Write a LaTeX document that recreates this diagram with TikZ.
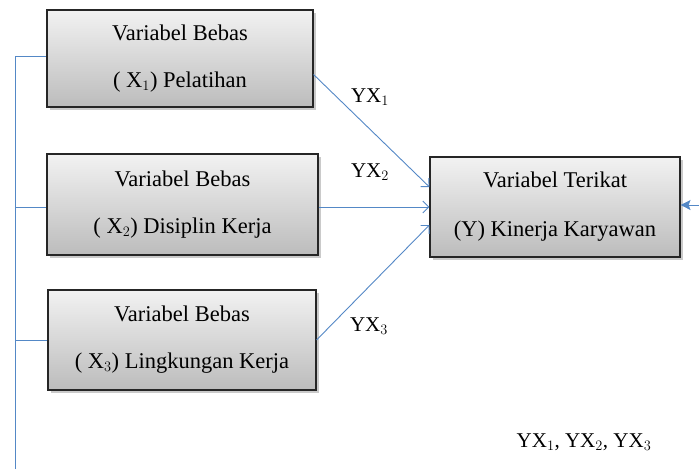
\documentclass[tikz,border=0pt]{standalone}
\usepackage{fontspec}
\setmainfont{Liberation Serif}
\usetikzlibrary{shadows,arrows.meta}
\definecolor{lnblue}{RGB}{84,136,198}
\definecolor{boxtop}{RGB}{242,242,242}
\definecolor{boxbot}{RGB}{188,188,188}
\tikzset{
  varbox/.style={draw=black!85, line width=1.1pt, top color=boxtop, bottom color=boxbot,
    drop shadow={shadow xshift=2.5pt, shadow yshift=-2.5pt, opacity=0.35, fill=black!60},
    align=center, font=\fontsize{22.5}{48}\selectfont, inner sep=0pt},
  link/.style={draw=lnblue, line width=0.9pt},
  arr/.style={link, -{Straight Barb[length=6pt,width=12pt,line width=0.9pt]}},
  lbl/.style={font=\fontsize{21}{24}\selectfont, inner sep=0pt}
}
\begin{document}
\begin{tikzpicture}[x=1pt,y=-1pt]
\useasboundingbox (0,0) rectangle (699,469);
\node[varbox, minimum width=266pt, minimum height=97pt] (b1) at (180,58.5)
  {Variabel Bebas\\[-1pt]( X$_1$) Pelatihan};
\node[varbox, minimum width=271pt, minimum height=101pt] (b2) at (182.5,204.5)
  {Variabel Bebas\\[-1pt]( X$_2$) Disiplin Kerja};
\node[varbox, minimum width=268pt, minimum height=100pt] (b3) at (182,340)
  {Variabel Bebas\\[-1pt]( X$_3$) Lingkungan Kerja};
\node[varbox, minimum width=250pt, minimum height=100pt] (y) at (555,207)
  {Variabel Terikat\\[1pt](Y) Kinerja Karyawan};

\coordinate (top) at (15,56);
\coordinate (bot) at (15,469);
\coordinate (t2) at (15,207);
\coordinate (t3) at (15,340);
\coordinate (rin) at (699,205);
\draw[link] (bot) -- (top) -- (b1.west |- top);
\draw[link] (t2) -- (b2.west |- t2);
\draw[link] (t3) -- (b3.west |- t3);

\draw[arr] ([yshift=-16pt]b1.east) -- ([yshift=20pt]y.west);
\draw[arr] (b2.east |- t2) -- (y.west |- t2);
\draw[arr] (b3.east) -- ([yshift=-18pt]y.west);
\draw[link, -{Stealth[length=10pt,width=10pt,inset=2pt]}] (rin) -- (y.east |- rin);

\node[lbl] (l1) at (370,97) {YX$_1$};
\node[lbl] (l2) at (370,172) {YX$_2$};
\node[lbl] (l3) at (369,326) {YX$_3$};
\node[lbl] (l4) at (584,442) {YX$_1$, YX$_2$, YX$_3$};
\end{tikzpicture}
\end{document}
